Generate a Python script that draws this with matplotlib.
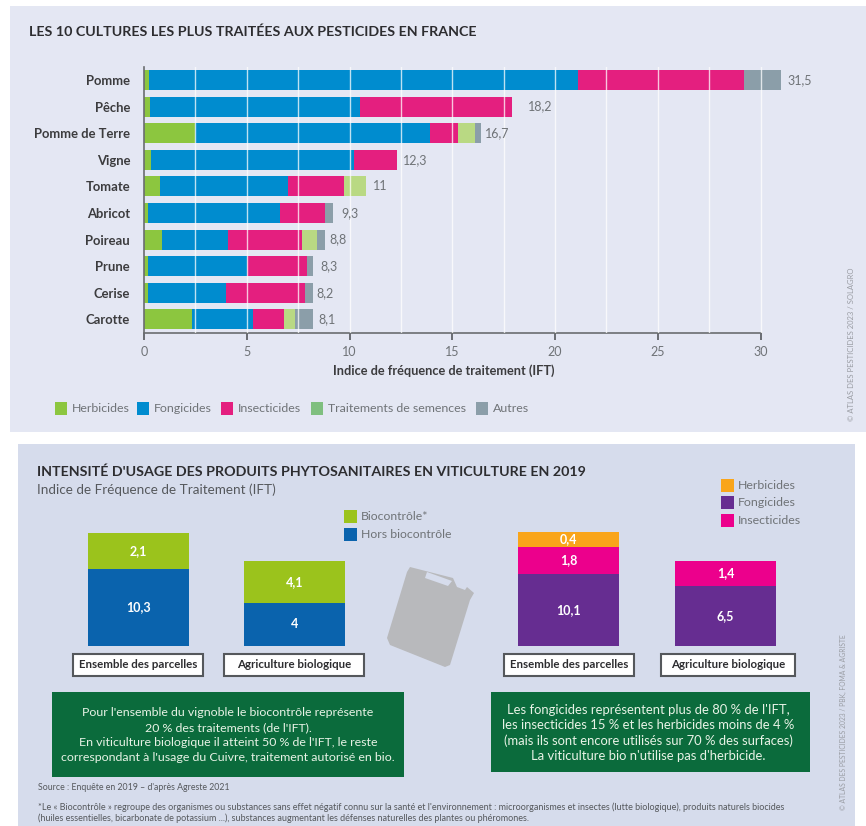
import matplotlib
matplotlib.use('Agg')
import matplotlib.pyplot as plt
from matplotlib.patches import Rectangle, Polygon

W = 866
H = 826

plt.rcParams['font.family'] = ['Lato', 'DejaVu Sans']

# top chart
cultures = ['Pomme', 'Pêche', 'Pomme de Terre', 'Vigne', 'Tomate', 'Abricot',
            'Poireau', 'Prune', 'Cerise', 'Carotte']
herbicides = [0.25, 0.3, 2.5, 0.35, 0.8, 0.2, 0.9, 0.2, 0.2, 2.35]
fongicides = [20.85, 10.2, 11.4, 9.85, 6.2, 6.4, 3.2, 4.8, 3.8, 2.95]
insecticides = [8.1, 7.4, 1.4, 2.1, 2.75, 2.2, 3.6, 2.95, 3.85, 1.5]
semences = [0, 0, 0.8, 0, 1.05, 0, 0.7, 0, 0, 0.55]
autres = [1.8, 0, 0.3, 0, 0, 0.4, 0.4, 0.25, 0.35, 0.85]
totaux = ['31,5', '18,2', '16,7', '12,3', '11', '9,3', '8,8', '8,3', '8,2', '8,1']
series_haut = [herbicides, fongicides, insecticides, semences, autres]
couleurs_haut = ['#8cc63f', '#008ccf', '#e41f7f', '#b9d983', '#8b9ea9']
noms_haut = ['Herbicides', 'Fongicides', 'Insecticides', 'Traitements de semences', 'Autres']
couleurs_leg_haut = ['#8cc63f', '#008ccf', '#e41f7f', '#7fbf7f', '#8b9ea9']
x_ticks = [0, 5, 10, 15, 20, 25, 30]

# bottom chart: the bars of the original are not to scale, so the drawn
# heights (px) are kept apart from the printed values
groupes = ['Ensemble des parcelles', 'Agriculture biologique']
hors_bio = [77, 43]
biocontrole = [36, 42]
hors_bio_txt = ['10,3', '4']
biocontrole_txt = ['2,1', '4,1']
fong = [72, 60]
insect = [27, 25]
herb = [15, 0]
fong_txt = ['10,1', '6,5']
insect_txt = ['1,8', '1,4']
herb_txt = ['0,4', '']

TXT = '#3c3c3e'
GRIS = '#6f7377'


def ax_px(x0, y0, x1, y1):
    # axes from pixel box, y measured from the top
    return fig.add_axes([x0 / W, 1 - y1 / H, (x1 - x0) / W, (y1 - y0) / H])


def rect(x0, y0, x1, y1, **kw):
    bg.add_patch(Rectangle((x0, y0), x1 - x0, y1 - y0, **kw))


fig = plt.figure(figsize=(W / 100, H / 100), dpi=100, facecolor='white')

bg = fig.add_axes([0, 0, 1, 1])
bg.set_xlim(0, W)
bg.set_ylim(H, 0)
bg.axis('off')

rect(10, 6, 866, 432, fc='#e4e7f3', ec='none')
rect(18, 444, 855, 826, fc='#d6dcec', ec='none')

# ---- top panel
bg.text(29, 32, 'LES 10 CULTURES LES PLUS TRAITÉES AUX PESTICIDES EN FRANCE',
        fontsize=10.3, fontweight='bold', color='#2d2d30', va='center')

ax = ax_px(144, 67, 144 + 32 * 20.55, 333)
ax.patch.set_alpha(0)
ax.set_xlim(0, 32)
ax.set_ylim(9.51, -0.49)
gauche = [0] * len(cultures)
for vals, c in zip(series_haut, couleurs_haut):
    ax.barh(range(len(cultures)), vals, left=gauche, height=0.75, color=c, zorder=2)
    gauche = [g + v for g, v in zip(gauche, vals)]
for i in range(1, 13):
    ax.axvline(i * 2.5, color='white', lw=1, alpha=0.75, zorder=3)
decal = [0.31, 0.79, 0.2, 0.3, 0.35, 0.4, 0.2, 0.4, 0.2, 0.3]
for i, t in enumerate(totaux):
    ax.text(gauche[i] + decal[i], i, t, fontsize=9, color=GRIS, va='center')
ax.set_yticks(range(len(cultures)))
ax.set_yticklabels(cultures, fontsize=9.4, fontweight='bold', color=TXT)
ax.set_xticks(x_ticks)
ax.tick_params(axis='x', length=5, width=1.2, color='#55585c', labelsize=9, labelcolor=GRIS, pad=4)
ax.tick_params(axis='y', length=0, pad=10)
for s in ['top', 'right']:
    ax.spines[s].set_visible(False)
ax.spines['bottom'].set_bounds(0, 30)
ax.spines['bottom'].set_color('#6a6d70')
ax.spines['left'].set_color('#6a6d70')
ax.spines['bottom'].set_linewidth(1.2)
ax.spines['left'].set_linewidth(1.2)
ax.spines['left'].set_zorder(4)
bg.text(444, 371, 'Indice de fréquence de traitement (IFT)', fontsize=9.2,
        fontweight='bold', color=TXT, ha='center', va='center')

leg_x = [55, 137, 221, 311, 476]
for x, c, n in zip(leg_x, couleurs_leg_haut, noms_haut):
    rect(x, 402, x + 12, 415, fc=c, ec='none')
    bg.text(x + 17, 408, n, fontsize=8.9, color=GRIS, va='center')

bg.text(852, 421, '© ATLAS DES PESTICIDES 2023 / SOLAGRO', fontsize=5.5, color='#9a9da4',
        rotation=90, ha='center', va='bottom')

# ---- bottom panel
bg.text(37, 472, "INTENSITÉ D'USAGE DES PRODUITS PHYTOSANITAIRES EN VITICULTURE EN 2019",
        fontsize=10.3, fontweight='bold', color='#2d2d30', va='center')
bg.text(37, 490, 'Indice de Fréquence de Traitement (IFT)', fontsize=9.7, color='#55585c', va='center')

# left group
ax2 = ax_px(0, 500, 433, 646)
ax2.axis('off')
ax2.set_xlim(0, 433)
ax2.set_ylim(0, 146)
x_g = [138.5, 294.5]
ax2.bar(x_g, hors_bio, width=101, color='#0a63ad')
ax2.bar(x_g, biocontrole, width=101, bottom=hors_bio, color='#9bc31c')
for x, a, b, ta, tb in zip(x_g, hors_bio, biocontrole, hors_bio_txt, biocontrole_txt):
    ax2.text(x, a / 2, ta, color='white', fontsize=9, fontweight='bold', ha='center', va='center')
    ax2.text(x, a + b / 2, tb, color='white', fontsize=9, fontweight='bold', ha='center', va='center')

# right group
ax3 = ax_px(433, 500, 855, 646)
ax3.axis('off')
ax3.set_xlim(433, 855)
ax3.set_ylim(0, 146)
x_d = [568.5, 725.5]
b2 = [f + i for f, i in zip(fong, insect)]
ax3.bar(x_d, fong, width=101, color='#662d91')
ax3.bar(x_d, insect, width=101, bottom=fong, color='#ec008c')
ax3.bar(x_d, herb, width=101, bottom=b2, color='#f9a51a')
for k, x in enumerate(x_d):
    ax3.text(x, fong[k] / 2, fong_txt[k], color='white', fontsize=9, fontweight='bold', ha='center', va='center')
    ax3.text(x, fong[k] + insect[k] / 2, insect_txt[k], color='white', fontsize=9, fontweight='bold', ha='center', va='center')
    if herb[k]:
        ax3.text(x, b2[k] + herb[k] / 2, herb_txt[k], color='white', fontsize=9, fontweight='bold', ha='center', va='center')

# group label boxes
for (x0, x1), t in zip([(73, 203), (224, 364), (504, 634), (661, 795)], groupes * 2):
    rect(x0, 654, x1, 676, fc='white', ec='#55585c', lw=1.5)
    bg.text((x0 + x1) / 2, 665, t, fontsize=8.3, fontweight='bold', color='#2d2d30', ha='center', va='center')

# legends
for y, c, n in [(510, '#9bc31c', 'Biocontrôle*'), (528, '#0a63ad', 'Hors biocontrôle')]:
    rect(344, y, 357, y + 13, fc=c, ec='none')
    bg.text(361, y + 6.5, n, fontsize=8.8, color=GRIS, va='center')
for y, c, n in [(479, '#f9a51a', 'Herbicides'), (496, '#662d91', 'Fongicides'), (514, '#ec008c', 'Insecticides')]:
    rect(721, y, 734, y + 13, fc=c, ec='none')
    bg.text(738, y + 6.5, n, fontsize=8.9, color=GRIS, va='center')

# jerrycan
bg.add_patch(Polygon([(410, 567), (453, 578), (457, 587), (465, 590), (467, 587), (474, 593), (470, 600),
                      (450, 665), (445, 667), (390, 645), (387, 638), (407, 572)],
                     closed=True, fc='#b8b9bc', ec='none'))
bg.add_patch(Polygon([(427, 572), (452, 581), (448, 586), (425, 578)], closed=True, fc='#d6dcec', ec='none'))

# green boxes
rect(52, 692, 404, 777, fc='#0b6b3c', ec='none')
txt_g = ["Pour l'ensemble du vignoble le biocontrôle représente", '20 % des traitements (de l\'IFT).',
         "En viticulture biologique il atteint 50 % de l'IFT, le reste",
         "correspondant à l'usage du Cuivre, traitement autorisé en bio."]
for k, t in enumerate(txt_g):
    bg.text(228, 712 + k * 15.3, t, fontsize=8.9, color='#e8f3e6', ha='center', va='center')
rect(491, 692, 810, 772, fc='#0b6b3c', ec='none')
txt_d = ["Les fongicides représentent plus de 80 % de l'IFT,", 'les insecticides 15 % et les herbicides moins de 4 %',
         '(mais ils sont encore utilisés sur 70 % des surfaces)', "La viticulture bio n'utilise pas d'herbicide."]
for k, t in enumerate(txt_d):
    bg.text(648, 710 + k * 15.3, t, fontsize=9.4, color='#e8f3e6', ha='center', va='center')

bg.text(38, 788, "Source : Enquête en 2019 – d'après Agreste 2021", fontsize=6.3, color='#55585c', va='center')
bg.text(38, 807, "*Le « Biocontrôle » regroupe des organismes ou substances sans effet négatif connu sur la santé et l'environnement : "
        'microorganismes et insectes (lutte biologique), produits naturels biocides', fontsize=6.5, color='#55585c', va='center')
bg.text(38, 818, '(huiles essentielles, bicarbonate de potassium ...), substances augmentant les défenses naturelles des plantes ou phéromones.',
        fontsize=6.5, color='#55585c', va='center')
bg.text(843, 810, '© ATLAS DES PESTICIDES 2023 / PBK, FOMA & AGRISTE', fontsize=4.9, color='#9a9da4',
        rotation=90, ha='center', va='bottom')

fig.savefig('out.png', dpi=100)
